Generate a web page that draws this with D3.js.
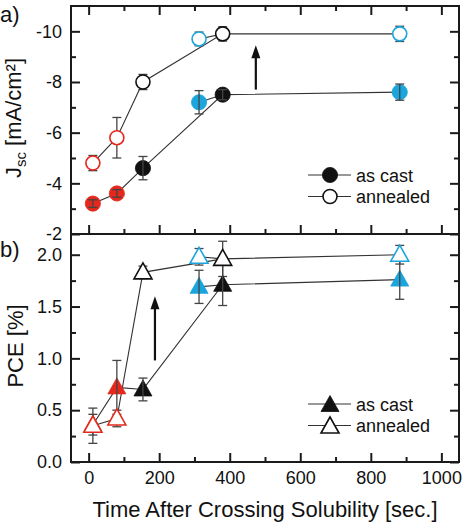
<!DOCTYPE html>
<html><head><meta charset="utf-8">
<script src="https://cdn.jsdelivr.net/npm/d3@7"></script>
<style>body{margin:0;background:#fff}svg{display:block;font-family:"Liberation Sans",Arial,sans-serif}</style>
</head><body>
<svg id="c" width="463" height="525"></svg>
<script>
// ---- data ----
const times = [12, 80, 154, 313, 380, 882];
const pointColors = ["red", "red", "black", "cyan", "black", "cyan"];
const jscCast = [-3.2, -3.6, -4.6, -7.2, -7.5, -7.6];
const jscCastErr = [0.15, 0.15, 0.46, 0.46, 0.2, 0.32];
const jscAnn = [-4.8, -5.8, -8.0, -9.7, -9.9, -9.9];
const jscAnnErr = [0.3, 0.8, 0.3, 0.27, 0.28, 0.3];
const pceCast = [0.36, 0.72, 0.70, 1.69, 1.71, 1.76];
const pceCastErr = [0.1, 0.26, 0.11, 0.16, 0.2, 0.19];
const pceAnn = [0.35, 0.42, 1.83, 1.98, 1.96, 2.0];
const pceAnnErr = [0.17, 0.08, 0.06, 0.08, 0.17, 0.09];
const lineOrder = [0, 1, 2, 4, 5];
const sideLink = [3, 4];
const xTicks = [0, 200, 400, 600, 800, 1000];
const xMinor = [100, 300, 500, 700, 900];
const jscTicks = [-2, -4, -6, -8, -10];
const jscTickLabels = ["-2", "-4", "-6", "-8", "-10"];
const jscMinor = [-3, -5, -7, -9];
const pceTicks = [0, 0.5, 1.0, 1.5, 2.0];
const pceTickLabels = ["0.0", "0.5", "1.0", "1.5", "2.0"];
const pceMinor = [0.25, 0.75, 1.25, 1.75];
const seriesNames = ["as cast", "annealed"];
const jscArrow = {t: 474, from: -7.7, to: -9.45};
const pceArrow = {t: 188, from: 0.98, to: 1.6};

const colorMap = {red: "#e3291d", black: "#111111", cyan: "#1ba5dc"};
const svg = d3.select("#c");
const L = 71, R = 459, T = 6, MID = 234, B = 462;
const x = d3.scaleLinear().domain([-50, 1050]).range([L, R]);
const yJ = d3.scaleLinear().domain([-2, -11]).range([MID, T]);
const yP = d3.scaleLinear().domain([0, 2.2]).range([B, MID]);
const axisCol = "#1a1a1a";

function ticksAxis(g, axisFn, vals, size, labels) {
  const a = axisFn.tickValues(vals).tickSizeInner(size).tickSizeOuter(0).tickPadding(9);
  if (labels) a.tickFormat((d, i) => labels[i]); else a.tickFormat("");
  g.call(a);
  g.select(".domain").remove();
  g.selectAll(".tick line").attr("stroke", axisCol).attr("stroke-width", 2);
  g.selectAll(".tick text").attr("fill", "#111").style("font-size", "18px").style("font-family", '"Liberation Sans",Arial,sans-serif');
}

function panel(y, yTicks, yLabels, yMinor, top, bottom, showTopTicks, showBottomLabels) {
  const g = svg.append("g");
  ticksAxis(g.append("g").attr("transform", `translate(${L},0)`), d3.axisLeft(y), yTicks, -9, yLabels);
  ticksAxis(g.append("g").attr("transform", `translate(${L},0)`), d3.axisLeft(y), yMinor, -5);
  ticksAxis(g.append("g").attr("transform", `translate(${R},0)`), d3.axisRight(y), yTicks, -9);
  ticksAxis(g.append("g").attr("transform", `translate(${R},0)`), d3.axisRight(y), yMinor, -5);
  ticksAxis(g.append("g").attr("transform", `translate(0,${bottom})`), d3.axisBottom(x), xTicks, -9, showBottomLabels ? xTicks.map(String) : null);
  ticksAxis(g.append("g").attr("transform", `translate(0,${bottom})`), d3.axisBottom(x), xMinor, -5);
  if (showTopTicks) {
    ticksAxis(g.append("g").attr("transform", `translate(0,${top})`), d3.axisTop(x), xTicks, -9);
    ticksAxis(g.append("g").attr("transform", `translate(0,${top})`), d3.axisTop(x), xMinor, -5);
  }
  return g;
}

function lines(layer, y, vals) {
  const ln = d3.line().x(i => x(times[i])).y(i => y(vals[i]));
  layer.append("path").attr("d", ln(lineOrder)).attr("fill", "none").attr("stroke", "#333").attr("stroke-width", 1.1);
  layer.append("path").attr("d", ln(sideLink)).attr("fill", "none").attr("stroke", "#333").attr("stroke-width", 1.1);
}

function errBars(layer, y, vals, errs) {
  times.forEach((t, i) => {
    const cx = x(t), y1 = y(vals[i] - errs[i]), y2 = y(vals[i] + errs[i]);
    const g = layer.append("g").attr("stroke", "#444").attr("stroke-width", 1.3);
    g.append("line").attr("x1", cx).attr("x2", cx).attr("y1", y1).attr("y2", y2);
    g.append("line").attr("x1", cx - 4.5).attr("x2", cx + 4.5).attr("y1", y1).attr("y2", y1);
    g.append("line").attr("x1", cx - 4.5).attr("x2", cx + 4.5).attr("y1", y2).attr("y2", y2);
  });
}

const triPath = "M0,-9.5L9,6.5L-9,6.5Z";
function marker(layer, cx, cy, shape, col, filled) {
  if (shape === "circle") {
    layer.append("circle").attr("cx", cx).attr("cy", cy).attr("r", filled ? 7.6 : 7)
      .attr("fill", filled ? col : "#fff").attr("stroke", col).attr("stroke-width", filled ? 0.8 : 1.6);
  } else {
    layer.append("path").attr("d", triPath).attr("transform", `translate(${cx},${cy})`)
      .attr("fill", filled ? col : "#fff").attr("stroke", col).attr("stroke-width", filled ? 0.8 : 1.6).attr("stroke-linejoin", "miter");
  }
}
function markers(layer, y, vals, shape, filled) {
  times.forEach((t, i) => marker(layer, x(t), y(vals[i]), shape, colorMap[pointColors[i]], filled));
}

function arrow(layer, y, a) {
  const cx = x(a.t), y0 = y(a.from), y1 = y(a.to);
  layer.append("line").attr("x1", cx).attr("x2", cx).attr("y1", y0).attr("y2", y1 + 10).attr("stroke", "#111").attr("stroke-width", 2.2);
  layer.append("path").attr("d", `M${cx},${y1}L${cx + 4.5},${y1 + 13}L${cx - 4.5},${y1 + 13}Z`).attr("fill", "#111");
}

function legend(layer, yc, shape) {
  seriesNames.forEach((name, i) => {
    const yy = yc + i * 21.5;
    layer.append("line").attr("x1", 308).attr("x2", 351).attr("y1", yy).attr("y2", yy).attr("stroke", "#333").attr("stroke-width", 1.1);
    marker(layer, 330, yy + (shape === "tri" ? 1 : 0), shape, "#111", i === 0);
    layer.append("text").attr("x", 356).attr("y", yy + 6.5).text(name).style("font-size", "18px").attr("fill", "#111");
  });
}

// ---- top panel (Jsc) ----
panel(yJ, jscTicks, jscTickLabels, jscMinor, T, MID, true, false);
const gJ = svg.append("g");
lines(gJ, yJ, jscCast);
lines(gJ, yJ, jscAnn);
errBars(gJ, yJ, jscAnn, jscAnnErr);
markers(gJ, yJ, jscCast, "circle", true);
errBars(gJ, yJ, jscCast, jscCastErr);
markers(gJ, yJ, jscAnn, "circle", false);
arrow(gJ, yJ, jscArrow);
legend(gJ, 175, "circle");

// ---- bottom panel (PCE) ----
panel(yP, pceTicks, pceTickLabels, pceMinor, MID, B, false, true);
const gP = svg.append("g");
lines(gP, yP, pceCast);
lines(gP, yP, pceAnn);
errBars(gP, yP, pceAnn, pceAnnErr);
markers(gP, yP, pceCast, "tri", true);
errBars(gP, yP, pceCast, pceCastErr);
markers(gP, yP, pceAnn, "tri", false);
arrow(gP, yP, pceArrow);
legend(gP, 404, "tri");

// frame
svg.append("rect").attr("x", L).attr("y", T).attr("width", R - L).attr("height", B - T).attr("fill", "none").attr("stroke", axisCol).attr("stroke-width", 2);
svg.append("line").attr("x1", L).attr("x2", R).attr("y1", MID).attr("y2", MID).attr("stroke", axisCol).attr("stroke-width", 2);

// labels
svg.append("text").attr("x", 0).attr("y", 22).text("a)").style("font-size", "22px").attr("fill", "#111");
svg.append("text").attr("x", 0).attr("y", 257).text("b)").style("font-size", "22px").attr("fill", "#111");
svg.append("text").attr("x", 265).attr("y", 517).attr("text-anchor", "middle").text("Time After Crossing Solubility [sec.]").style("font-size", "22px").attr("fill", "#111");
svg.append("text").attr("transform", "translate(23,346) rotate(-90)").attr("text-anchor", "middle").text("PCE [%]").style("font-size", "22px").attr("fill", "#111");
const jt = svg.append("text").attr("transform", "translate(21,118) rotate(-90)").attr("text-anchor", "middle").style("font-size", "22px").attr("fill", "#111");
jt.append("tspan").text("J");
jt.append("tspan").attr("dy", 5).style("font-size", "15px").text("sc");
jt.append("tspan").attr("dy", -5).text(" [mA/cm²]");
</script>
</body></html>
